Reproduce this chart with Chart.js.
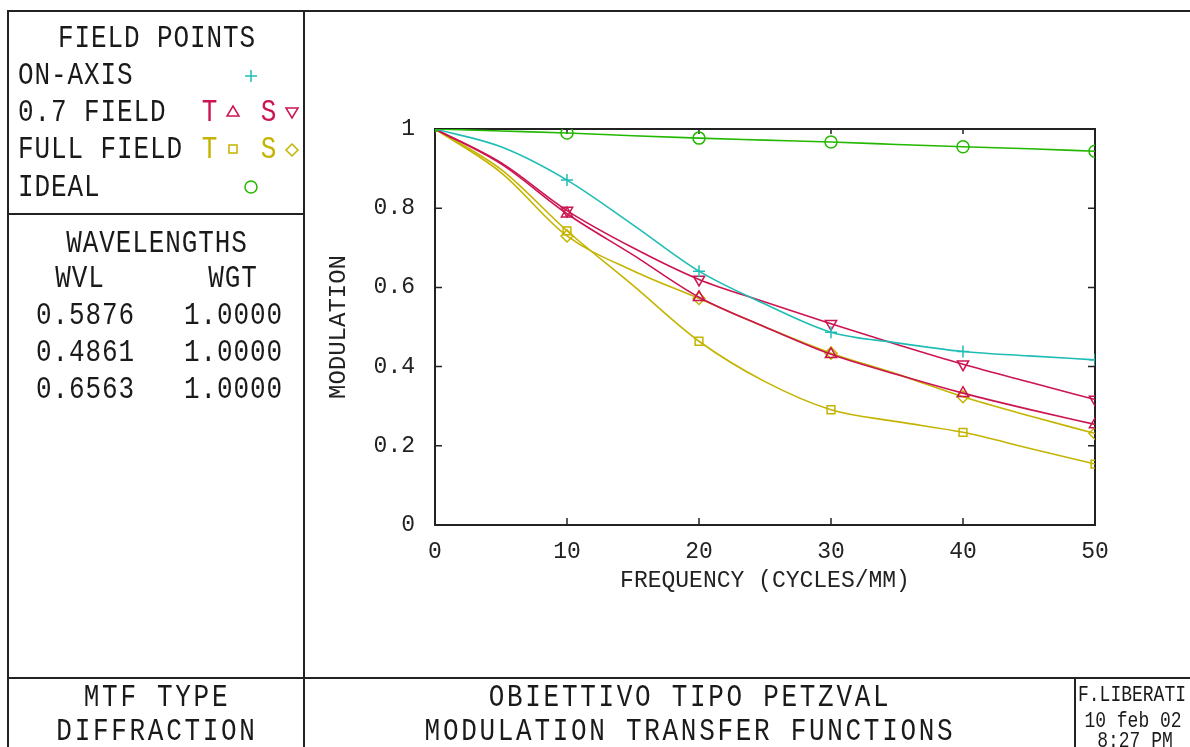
<!DOCTYPE html>
<html>
<head>
<meta charset="utf-8">
<script src="https://cdn.jsdelivr.net/npm/chart.js@4.4.1/dist/chart.umd.min.js"></script>
<style>
  html,body{margin:0;padding:0;background:#fff;overflow:hidden;}
  #wrap{position:relative;width:1190px;height:747px;}
  #c{position:absolute;left:0;top:0;}
  .ln{position:absolute;background:#222;}
  .t{position:absolute;font-family:'Liberation Mono','DejaVu Sans Mono',monospace;white-space:pre;line-height:1;color:#1a1a1a;}
  .big{font-size:26px;letter-spacing:0.9px;}
  .bot{font-size:26px;letter-spacing:2.7px;}
  .sm{font-size:18px;letter-spacing:0px;}
  .c{transform:translate(-50%,-50%) scaleY(1.22);}
  .l{transform:translate(0,-50%) scaleY(1.22);}
  .sym{position:absolute;}
</style>
</head>
<body>
<div id="wrap">
  <canvas id="c" width="1190" height="747"></canvas>

  <!-- frame lines -->
  <div class="ln" style="left:7px;top:10px;width:1183px;height:2px;"></div>
  <div class="ln" style="left:7px;top:10px;width:2px;height:737px;"></div>
  <div class="ln" style="left:303px;top:10px;width:2px;height:737px;"></div>
  <div class="ln" style="left:7px;top:213px;width:297px;height:2px;"></div>
  <div class="ln" style="left:7px;top:677px;width:1183px;height:2px;"></div>
  <div class="ln" style="left:1074px;top:677px;width:2px;height:70px;"></div>

  <!-- field points legend -->
  <div class="t big c" style="left:157px;top:38px;">FIELD POINTS</div>
  <div class="t big l" style="left:18px;top:75px;">ON-AXIS</div>
  <div class="t big l" style="left:18px;top:112px;">0.7 FIELD</div>
  <div class="t big l" style="left:18px;top:149px;">FULL FIELD</div>
  <div class="t big l" style="left:18px;top:187px;">IDEAL</div>
  <div class="t big c" style="left:210px;top:112px;color:#cc1450;">T</div>
  <div class="t big c" style="left:269px;top:112px;color:#cc1450;">S</div>
  <div class="t big c" style="left:210px;top:149px;color:#c4b400;">T</div>
  <div class="t big c" style="left:269px;top:149px;color:#c4b400;">S</div>
  <svg class="sym" style="left:0;top:0;" width="304" height="214">
    <g fill="none" stroke-width="1.5">
      <path d="M245 76 H257 M251 70 V82" stroke="#1fbdb5"/>
      <path d="M233 106 L239 116 L227 116 Z" stroke="#cc1450"/>
      <path d="M286 108 L298 108 L292 118 Z" stroke="#cc1450"/>
      <rect x="229" y="145" width="8" height="8" stroke="#c4b400"/>
      <path d="M292 144 L298 150 L292 156 L286 150 Z" stroke="#c4b400"/>
      <circle cx="251" cy="187" r="6" stroke="#22b800"/>
    </g>
  </svg>

  <!-- wavelengths -->
  <div class="t big c" style="left:157px;top:243px;">WAVELENGTHS</div>
  <div class="t big c" style="left:80px;top:278px;">WVL</div>
  <div class="t big c" style="left:233px;top:278px;">WGT</div>
  <div class="t big l" style="left:36px;top:315px;">0.5876</div>
  <div class="t big l" style="left:184px;top:315px;">1.0000</div>
  <div class="t big l" style="left:36px;top:352px;">0.4861</div>
  <div class="t big l" style="left:184px;top:352px;">1.0000</div>
  <div class="t big l" style="left:36px;top:389px;">0.6563</div>
  <div class="t big l" style="left:184px;top:389px;">1.0000</div>

  <!-- bottom strip -->
  <div class="t bot c" style="left:157px;top:697px;">MTF TYPE</div>
  <div class="t bot c" style="left:157px;top:731px;">DIFFRACTION</div>
  <div class="t bot c" style="left:690px;top:697px;">OBIETTIVO TIPO PETZVAL</div>
  <div class="t bot c" style="left:690px;top:731px;">MODULATION TRANSFER FUNCTIONS</div>
  <div class="t sm l" style="left:1078px;top:695px;">F.LIBERATI</div>
  <div class="t sm c" style="left:1133px;top:721px;">10 feb 02</div>
  <div class="t sm c" style="left:1135px;top:741px;">8:27 PM</div>
</div>

<script>
// ---- data ----
const freq   = [0, 5, 10, 15, 20, 25, 30, 35, 40, 45, 50];
const onAxis = [1, 0.955, 0.871, 0.758, 0.641, 0.558, 0.487, 0.460, 0.438, 0.427, 0.417];
const fld07T = [1, 0.912, 0.786, 0.682, 0.575, 0.500, 0.431, 0.380, 0.333, 0.292, 0.254];
const fld07S = [1, 0.915, 0.794, 0.700, 0.620, 0.563, 0.508, 0.456, 0.406, 0.361, 0.317];
const fullT  = [1, 0.898, 0.743, 0.605, 0.464, 0.362, 0.291, 0.261, 0.234, 0.194, 0.154];
const fullS  = [1, 0.890, 0.730, 0.642, 0.572, 0.500, 0.434, 0.381, 0.324, 0.276, 0.231];
const ideal  = [1, 0.995, 0.990, 0.983, 0.977, 0.972, 0.967, 0.961, 0.955, 0.950, 0.944];
const xTickValues = [0, 10, 20, 30, 40, 50];
const yTickValues = [0, 0.2, 0.4, 0.6, 0.8, 1];
const xTitle = 'FREQUENCY (CYCLES/MM)';
const yTitle = 'MODULATION';

const FONT = "'Liberation Mono','DejaVu Sans Mono',monospace";
const INK = '#222';

function pts(arr){ return arr.map((v,i)=>({x:freq[i], y:v})); }
function markerRadius(r){
  return ctx => {
    const f = freq[ctx.dataIndex];
    if (f === 0) return 2.5;
    return (f % 10 === 0) ? r : 0;
  };
}
function ds(label, arr, color, style, r, rot){
  return {
    label, data: pts(arr), borderColor: color, borderWidth: 1.6,
    pointStyle: style, pointRadius: markerRadius(r), pointRotation: rot || 0,
    pointBorderColor: color, pointBackgroundColor: 'rgba(0,0,0,0)', pointBorderWidth: 1.5,
    cubicInterpolationMode: 'monotone', fill: false
  };
}

const frame = {
  id: 'frame',
  beforeDatasetsDraw(chart){
    const {ctx, chartArea:a, scales:{x, y}} = chart;
    ctx.save();
    ctx.strokeStyle = INK; ctx.lineWidth = 2;
    ctx.strokeRect(a.left, a.top, a.right - a.left, a.bottom - a.top);
    ctx.lineWidth = 1.5;
    const L = 7;
    ctx.beginPath();
    x.ticks.forEach(t => {
      const px = x.getPixelForValue(t.value);
      if (px <= a.left + 1 || px >= a.right - 1) return;
      ctx.moveTo(px, a.bottom); ctx.lineTo(px, a.bottom - L);
      ctx.moveTo(px, a.top); ctx.lineTo(px, a.top + L - 2);
    });
    y.ticks.forEach(t => {
      const py = y.getPixelForValue(t.value);
      if (py <= a.top + 1 || py >= a.bottom - 1) return;
      ctx.moveTo(a.left, py); ctx.lineTo(a.left + L, py);
      ctx.moveTo(a.right, py); ctx.lineTo(a.right - L, py);
    });
    ctx.stroke();
    ctx.restore();
  }
};

new Chart(document.getElementById('c'), {
  type: 'line',
  data: {
    datasets: [
      ds('IDEAL', ideal, '#22b800', 'circle', 6),
      ds('ON-AXIS', onAxis, '#1fbdb5', 'cross', 6),
      ds('0.7 FIELD S', fld07S, '#cc1450', 'triangle', 6.5, 180),
      ds('0.7 FIELD T', fld07T, '#cc1450', 'triangle', 6.5),
      ds('FULL FIELD S', fullS, '#c4b400', 'rectRot', 6),
      ds('FULL FIELD T', fullT, '#c4b400', 'rect', 5.5)
    ]
  },
  options: {
    responsive: false, animation: false, events: [],
    layout: { padding: { left: 327, top: 129, right: 95, bottom: 154.5 } },
    plugins: { legend: { display: false }, tooltip: { enabled: false } },
    scales: {
      x: {
        type: 'linear', min: 0, max: 50,
        afterBuildTicks: s => { s.ticks = xTickValues.map(v => ({value: v})); },
        afterFit: s => { s.height = 67.5; },
        grid: { display: false }, border: { display: false },
        ticks: { color: INK, font: { family: FONT, size: 23 }, padding: 5, maxRotation: 0 },
        title: { display: true, text: xTitle, color: INK, font: { family: FONT, size: 23, lineHeight: 1 }, padding: 0 }
      },
      y: {
        type: 'linear', min: 0, max: 1,
        afterBuildTicks: s => { s.ticks = yTickValues.map(v => ({value: v})); },
        afterFit: s => { s.width = 108; },
        grid: { display: false }, border: { display: false },
        ticks: { color: INK, font: { family: FONT, size: 23 }, padding: 12,
                 callback: v => String(v) },
        title: { display: true, text: yTitle, color: INK, font: { family: FONT, size: 24, lineHeight: 1 }, padding: 0 }
      }
    }
  },
  plugins: [frame]
});
</script>
</body>
</html>
